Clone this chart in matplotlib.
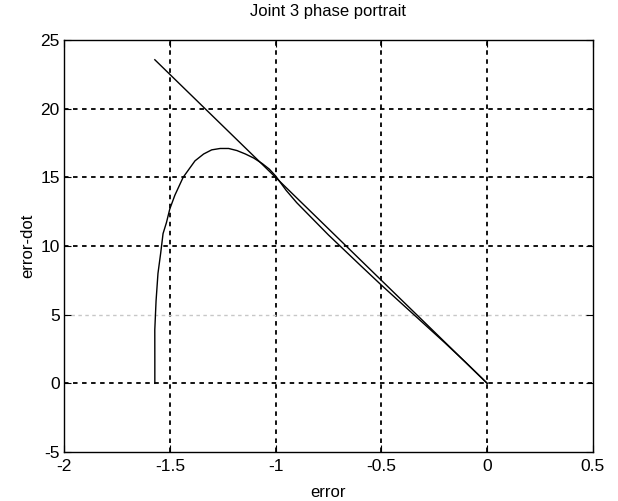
"""Joint 3 phase portrait, MATLAB style"""
import numpy as np
import matplotlib
matplotlib.use("Agg")
import matplotlib.pyplot as plt

plt.rcParams['font.family'] = ['Liberation Sans', 'DejaVu Sans']

# sliding line s = 0 (error-dot = -15 * error)
line_err = [-1.5708, 0.0]
line_edot = [23.56, 0.0]

# trajectory
traj_err = [-1.5708, -1.5708, -1.571, -1.565, -1.556, -1.543, -1.532, -1.516,
            -1.500, -1.476, -1.437, -1.381, -1.340, -1.302, -1.262, -1.222,
            -1.183, -1.143, -1.103, -1.063, -1.030, -1.000, -0.950, -0.900,
            -0.750, -0.600, -0.500, -0.400, -0.300, -0.200, -0.100, 0.0]
traj_edot = [0.0, 1.7, 3.9, 6.0, 8.0, 9.5, 10.9, 11.7,
             12.7, 13.7, 15.0, 16.2, 16.7, 17.0, 17.1, 17.1,
             16.95, 16.7, 16.4, 16.0, 15.6, 15.1, 14.05, 13.15,
             10.8, 8.6, 7.15, 5.75, 4.35, 2.95, 1.5, 0.0]

xticks = [-2, -1.5, -1, -0.5, 0, 0.5]
yticks = [-5, 0, 5, 10, 15, 20, 25]

fig = plt.figure(figsize=(6.18, 5.01), dpi=100)
ax = fig.add_axes([0.1036, 0.0978, 0.8559, 0.8224])

ax.plot(line_err, line_edot, color='k', lw=1.0)
ax.plot(traj_err, traj_edot, color='k', lw=1.0)

ax.set_xlim(-2, 0.5)
ax.set_ylim(-5, 25)
ax.set_xticks(xticks)
ax.set_yticks(yticks)
ax.set_xticklabels(['-2', '-1.5', '-1', '-0.5', '0', '0.5'])
ax.set_yticklabels([str(v) for v in yticks])
ax.tick_params(direction='in', top=True, right=True, length=5,
               labelsize=12.5, colors='k')
ax.tick_params(axis='x', pad=5)
ax.tick_params(axis='y', pad=3)
ax.grid(True, color='k', lw=1.3, linestyle=(0, (2.5, 2.5)))
# grid lines on the box edges are hidden by the box itself
for gl in (ax.xaxis.get_gridlines()[0], ax.xaxis.get_gridlines()[-1],
           ax.yaxis.get_gridlines()[0], ax.yaxis.get_gridlines()[-1]):
    gl.set_visible(False)
# the 5 line is washed out in the scan
ax.yaxis.get_gridlines()[2].set_color('0.78')
ax.yaxis.get_gridlines()[2].set_linewidth(1.0)

for sp in ax.spines.values():
    sp.set_linewidth(1.0)

ax.set_title('Joint 3 phase portrait', fontsize=12, pad=17)
ax.set_xlabel('error', fontsize=12, labelpad=8)
ax.set_ylabel('error-dot', fontsize=12, labelpad=4)

fig.savefig('out.png', dpi=100)
